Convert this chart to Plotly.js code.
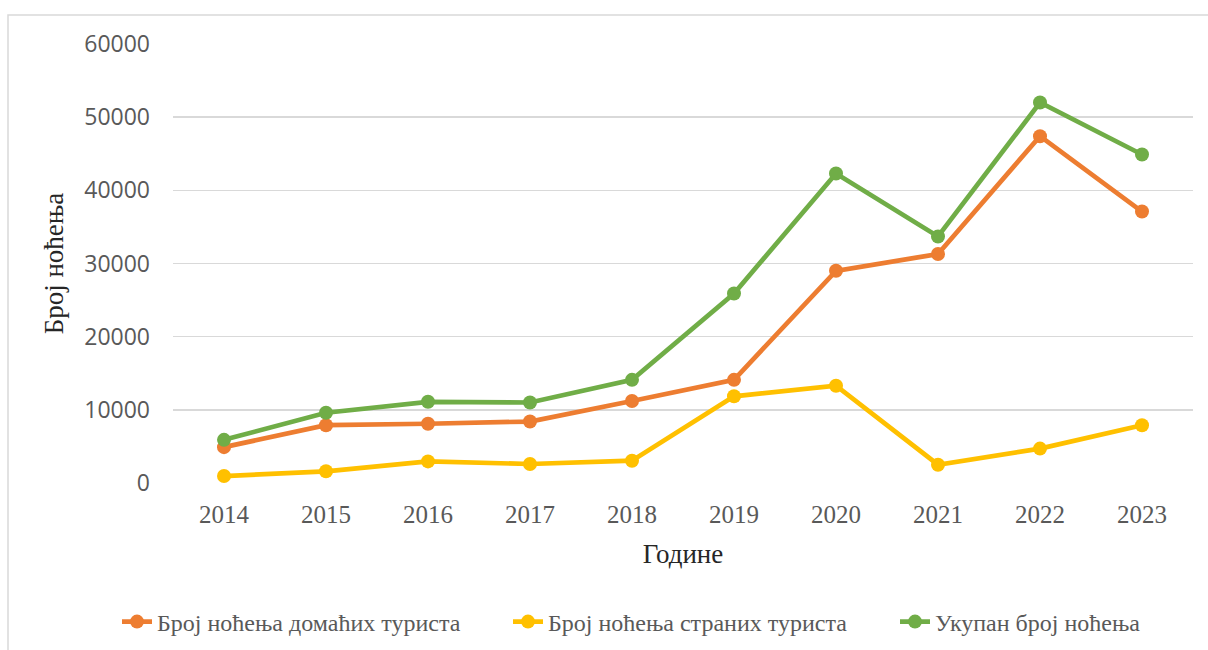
<!DOCTYPE html>
<html>
<head>
<meta charset="utf-8">
<script src="https://cdn.plot.ly/plotly-3.0.1.min.js"></script>
<style>
  html, body { margin: 0; padding: 0; background: #ffffff; }
  #chart { width: 1208px; height: 650px; }
</style>
</head>
<body>
<div id="chart"></div>
<script>
// ---- Data ----
const years = ['2014', '2015', '2016', '2017', '2018', '2019', '2020', '2021', '2022', '2023'];
const domestic = [4900, 7900, 8100, 8400, 11200, 14100, 29000, 31300, 47400, 37100];
const foreign  = [950, 1600, 2950, 2600, 3050, 11850, 13300, 2500, 4700, 7900];
const total    = [5900, 9600, 11100, 11000, 14100, 25900, 42300, 33700, 52000, 44900];

const seriesNames = [
  'Број ноћења домаћих туриста',
  'Број ноћења страних туриста',
  'Укупан број ноћења'
];
const yTicks = [0, 10000, 20000, 30000, 40000, 50000, 60000];

// ---- Styling ----
const colors = ['#ED7D31', '#FFC000', '#70AD47'];
const serif = 'Liberation Serif, Times New Roman, serif';
const sans = 'Open Sans, Liberation Sans, sans-serif';

const W = 1208, H = 650;
const margin = { l: 173, r: 15, t: 44, b: 167 };

function mk(y, i, legendId) {
  return {
    type: 'scatter',
    mode: 'lines+markers',
    x: years,
    y: y,
    name: seriesNames[i],
    legend: legendId,
    line: { color: colors[i], width: 4.7 },
    marker: { color: colors[i], size: 14 },
    cliponaxis: false
  };
}

const data = [
  mk(domestic, 0, 'legend'),
  mk(foreign, 1, 'legend2'),
  mk(total, 2, 'legend3')
];

const pw = W - margin.l - margin.r;
const ph = H - margin.t - margin.b;
const px = v => (v - margin.l) / pw;
const py = v => (H - margin.b - v) / ph;

const legendBase = {
  orientation: 'h',
  xref: 'container', yref: 'container',
  yanchor: 'middle', xanchor: 'left',
  y: 1 - 622 / H,
  font: { family: serif, size: 24, color: '#595959' },
  bgcolor: 'rgba(0,0,0,0)',
  itemwidth: 30
};

const layout = {
  width: W, height: H,
  margin: margin,
  paper_bgcolor: '#ffffff',
  plot_bgcolor: '#ffffff',
  showlegend: true,
  legend:  Object.assign({}, legendBase, { x: 117 / W }),
  legend2: Object.assign({}, legendBase, { x: 508 / W }),
  legend3: Object.assign({}, legendBase, { x: 895 / W }),
  xaxis: {
    type: 'category',
    range: [-0.5, 9.5],
    showgrid: false,
    zeroline: false,
    showline: false,
    ticks: '',
    tickfont: { family: serif, size: 25, color: '#595959' },
    ticklabelstandoff: 14,
    title: { text: 'Године', font: { family: serif, size: 27, color: '#262626' }, standoff: 17 }
  },
  yaxis: {
    range: [0, 60000],
    tickvals: yTicks,
    ticktext: yTicks.map(String),
    showgrid: true,
    gridcolor: '#d9d9d9',
    gridwidth: 1.6,
    zeroline: false,
    showline: false,
    ticks: '',
    tickfont: { family: sans, size: 23, color: '#595959' },
    ticklabelstandoff: 22,
    title: { text: 'Број ноћења', font: { family: serif, size: 27, color: '#262626' }, standoff: 12 }
  },
  shapes: [{
    type: 'rect', xref: 'paper', yref: 'paper', layer: 'below',
    x0: px(8), x1: px(W + 5), y0: py(H + 5), y1: py(15),
    line: { color: '#d9d9d9', width: 1.5 },
    fillcolor: 'rgba(0,0,0,0)'
  }]
};

Plotly.newPlot('chart', data, layout, { displayModeBar: false, staticPlot: true });
</script>
</body>
</html>
